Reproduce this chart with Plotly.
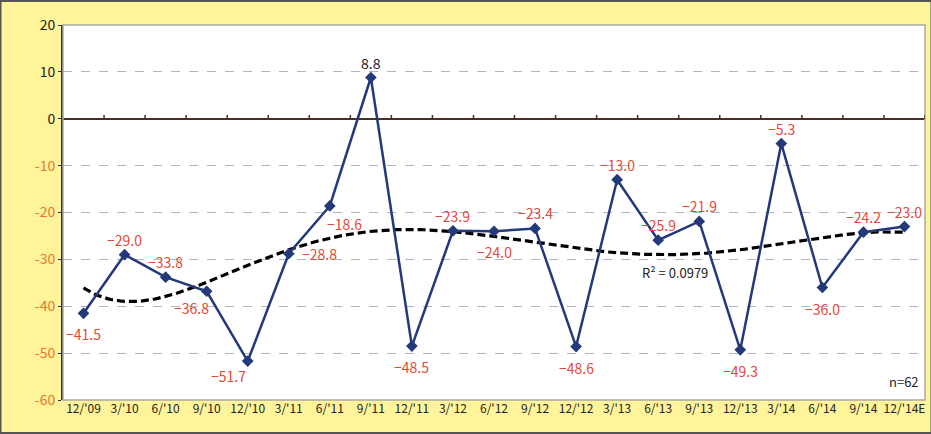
import numpy as np
import plotly.graph_objects as go

# Quarterly index values
quarters = ["12/'09", "3/'10", "6/'10", "9/'10", "12/'10", "3/'11", "6/'11", "9/'11",
            "12/'11", "3/'12", "6/'12", "9/'12", "12/'12", "3/'13", "6/'13", "9/'13",
            "12/'13", "3/'14", "6/'14", "9/'14", "12/'14E"]
values = [-41.5, -29.0, -33.8, -36.8, -51.7, -28.8, -18.6, 8.8, -48.5, -23.9, -24.0,
          -23.4, -48.6, -13.0, -25.9, -21.9, -49.3, -5.3, -36.0, -24.2, -23.0]
y_ticks = [20, 10, 0, -10, -20, -30, -40, -50, -60]
sample_note = "n=62"
r2_note = "R² = 0.0979"

# Label placement (x shift, y shift in px) per point
label_offsets = {
    "above": (0, 15), "below": (0, -21), "below_left": (-15, -17),
    "below_left2": (-19, -15), "right": (31, 0), "below_right": (15, -18),
}
label_pos = ["below", "above", "above", "below_left", "below_left2", "right",
             "below_right", "above", "below", "above", "below", "above", "below",
             "above", "above", "above", "below", "above", "below", "above", "above"]

W, H = 931, 434
ML, MR, MT, MB = 63, 6, 25, 34
NAVY = "#22397A"
LABEL_RED = "#E5483A"
TICK_ORANGE = "#E8762C"
FONT = "Noto Sans CJK JP"

x_idx = np.arange(len(values))

# 6th-order polynomial trend
poly = np.polynomial.Polynomial.fit(x_idx + 1, values, 6)
xs = np.linspace(0, len(values) - 1, 300)
trend = poly(xs + 1)

fig = go.Figure()

fig.add_trace(go.Scatter(
    x=xs, y=trend, mode="lines",
    line=dict(color="black", width=3.2, dash="8px,4px"),
    hoverinfo="skip", showlegend=False,
))
fig.add_trace(go.Scatter(
    x=x_idx, y=values, mode="lines+markers",
    line=dict(color=NAVY, width=2.5),
    marker=dict(symbol="diamond", size=9, color=NAVY),
    showlegend=False,
))

annotations = []
for i, (v, pos) in enumerate(zip(values, label_pos)):
    dx, dy = label_offsets[pos]
    annotations.append(dict(
        x=i, y=v, xref="x", yref="y", text=f"{v:.1f}".replace("-", "−"),
        showarrow=False, xshift=dx, yshift=dy,
        font=dict(family=FONT, size=14, color="#222222" if v > 0 else LABEL_RED),
    ))
annotations.append(dict(x=14.4, y=-32.8, xref="x", yref="y", text=r2_note,
                        showarrow=False, font=dict(family=FONT, size=13, color="#222222")))
annotations.append(dict(x=0.995, y=0.02, xref="paper", yref="paper", text=sample_note,
                        xanchor="right", yanchor="bottom", showarrow=False,
                        font=dict(family=FONT, size=13, color="#222222")))

pw = W - ML - MR
ph = H - MT - MB
shapes = [
    # outer frame
    dict(type="rect", xref="paper", yref="paper",
         x0=-ML / pw + 0.5 / pw, x1=1 + MR / pw + 0.5 / pw,
         y0=-MB / ph + 1 / ph, y1=1 + MT / ph - 1 / ph,
         line=dict(color="#555555", width=2), layer="below"),
    # plot area border
    dict(type="rect", xref="paper", yref="paper", x0=0, x1=1, y0=0, y1=1,
         line=dict(color="#A8A8A8", width=1.5)),
]
for i in range(len(values)):
    shapes.append(dict(type="line", xref="x", yref="y", x0=i + 0.5, x1=i + 0.5,
                       y0=0, y1=0.8, line=dict(color="#4A2E28", width=1.5)))

tick_text = [f'<span style="color:{"#222222" if t >= 0 else TICK_ORANGE}">{t}</span>'
             for t in y_ticks]

fig.update_layout(
    width=W, height=H,
    margin=dict(l=ML, r=MR, t=MT, b=MB),
    paper_bgcolor="#FFF49A",
    plot_bgcolor="white",
    font=dict(family=FONT, size=13, color="#222222"),
    xaxis=dict(
        range=[-0.5, len(values) - 0.5],
        tickmode="array", tickvals=list(x_idx), ticktext=quarters,
        tickfont=dict(size=12, color="#222222"),
        showgrid=False, zeroline=False, showline=False, ticks="",
    ),
    yaxis=dict(
        range=[-60, 20], tickmode="array", tickvals=y_ticks, ticktext=tick_text,
        tickfont=dict(size=14),
        showgrid=True, gridcolor="#A9B7CB", griddash="dash", gridwidth=1,
        zeroline=True, zerolinecolor="#4A2E28", zerolinewidth=2,
        showline=True, linecolor="#333333", linewidth=2,
        ticks="outside", ticklen=3, tickcolor="#333333",
    ),
    annotations=annotations,
    shapes=shapes,
)

fig.write_html("out.html")
